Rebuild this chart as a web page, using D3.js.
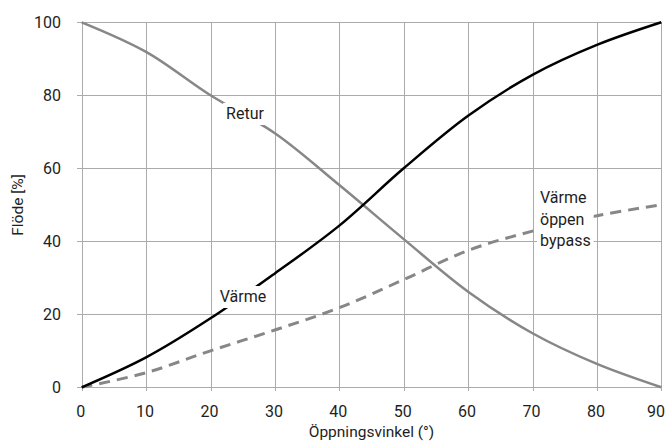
<!DOCTYPE html>
<html>
<head>
<meta charset="utf-8">
<script src="https://cdn.jsdelivr.net/npm/d3@7/dist/d3.min.js"></script>
<style>
  body { margin: 0; background: #fff; }
  svg { display: block; font-family: Roboto, "DejaVu Sans", sans-serif; }
</style>
</head>
<body>
<svg id="chart" width="666" height="441"></svg>
<script>
// Öppningsvinkel (grader) och flöde (%) för respektive kurva
const angles = [0, 10, 20, 30, 40, 50, 60, 70, 80, 90];
const retur  = [100, 91.9, 80.0, 69.6, 55.4, 40.6, 26.2, 14.8, 6.4, 0];
const varme  = [0, 8.2, 18.9, 31.2, 44.3, 60.0, 74.4, 85.6, 93.8, 100];
const bypass = [0, 4.0, 10.0, 15.7, 21.8, 29.5, 37.5, 42.8, 47.0, 50];

const xTicks = [0, 10, 20, 30, 40, 50, 60, 70, 80, 90];
const yTicks = [0, 20, 40, 60, 80, 100];

const W = 666, H = 441;
const margin = { top: 22.3, right: 4.7, bottom: 53.7, left: 81.7 };

const svg = d3.select("#chart");
const x = d3.scaleLinear().domain([0, 90]).range([margin.left, W - margin.right]);
const y = d3.scaleLinear().domain([0, 100]).range([H - margin.bottom, margin.top]);

const gridColor = "#ababab";
const textColor = "#1e1e1e";
const fontSize = 16;

// Rutnät (axlarnas tickar förlängda över hela ytan)
const xAxis = svg.append("g")
  .attr("transform", `translate(0,${H - margin.bottom})`)
  .call(d3.axisBottom(x).tickValues(xTicks).tickSize(-(H - margin.top - margin.bottom)).tickPadding(0).tickFormat(""));
const yAxis = svg.append("g")
  .attr("transform", `translate(${margin.left},0)`)
  .call(d3.axisLeft(y).tickValues(yTicks).tickSize(-(W - margin.left - margin.right)).tickPadding(0).tickFormat(""));
[xAxis, yAxis].forEach(g => {
  g.select(".domain").remove();
  g.selectAll(".tick line").attr("stroke", gridColor).attr("stroke-width", 1).attr("shape-rendering", "crispEdges");
});
// korta tickstreck utanför ytan
xAxis.selectAll(".tick").append("line").attr("y1", 0).attr("y2", 4)
  .attr("stroke", gridColor).attr("shape-rendering", "crispEdges");
yAxis.selectAll(".tick").append("line").attr("x1", 0).attr("x2", -5)
  .attr("stroke", gridColor).attr("shape-rendering", "crispEdges");

// Ticketiketter (sista etiketten hålls innanför kanten)
svg.append("g").selectAll("text").data(xTicks).join("text")
  .attr("x", d => Math.min(x(d) - 1, W - 10)).attr("y", H - margin.bottom + 30)
  .attr("text-anchor", "middle").attr("font-size", fontSize).attr("fill", textColor)
  .text(d => d);
svg.append("g").selectAll("text").data(yTicks).join("text")
  .attr("x", 61).attr("y", d => y(d)).attr("dy", "0.36em")
  .attr("text-anchor", "end").attr("font-size", fontSize).attr("fill", textColor)
  .text(d => d);

// Axeltitlar
svg.append("text").attr("x", (margin.left + W - margin.right) / 2).attr("y", 437)
  .attr("text-anchor", "middle").attr("font-size", 15.5).attr("fill", textColor)
  .text("Öppningsvinkel (°)");
svg.append("text").attr("transform", `translate(23,205) rotate(-90)`)
  .attr("text-anchor", "middle").attr("font-size", 15.5).attr("fill", textColor)
  .text("Flöde [%]");

// Kurvor
const line = vals => d3.line()
  .x((d, i) => x(angles[i]))
  .y(d => y(d))
  .curve(d3.curveCatmullRom.alpha(0.5))(vals);

svg.append("path").attr("d", line(retur)).attr("fill", "none")
  .attr("stroke", "#878787").attr("stroke-width", 2.5);
svg.append("path").attr("d", line(bypass)).attr("fill", "none")
  .attr("stroke", "#878787").attr("stroke-width", 3).attr("stroke-dasharray", "11,7");
svg.append("path").attr("d", line(varme)).attr("fill", "none")
  .attr("stroke", "#000").attr("stroke-width", 2.5);

// Etiketter med vit bakgrund
function label(lines, lx, ly, anchor, lh) {
  const g = svg.append("g");
  const t = g.append("text").attr("font-size", fontSize).attr("fill", textColor).attr("text-anchor", anchor);
  lines.forEach((s, i) => t.append("tspan").attr("x", lx).attr("y", ly + i * lh).text(s));
  const b = t.node().getBBox();
  g.insert("rect", "text").attr("x", b.x - 3).attr("y", b.y - 1).attr("width", b.width + 6).attr("height", b.height + 3)
    .attr("fill", "#fff");
}
label(["Retur"], 245, 119, "middle", 0);
label(["Värme"], 243, 302, "middle", 0);
label(["Värme", "öppen", "bypass"], 540, 203, "start", 21.5);
</script>
</body>
</html>
